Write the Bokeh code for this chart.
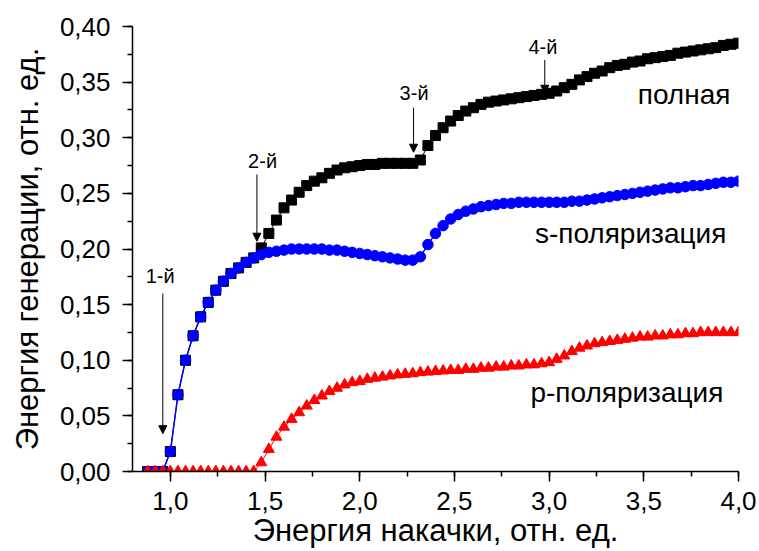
from bokeh.plotting import figure
from bokeh.models import (Range1d, SingleIntervalTicker, CustomJSTickFormatter,
                          Arrow, NormalHead, Label)
from bokeh.embed import file_html
from bokeh.resources import INLINE

# Pump energy (rel. units)
pump = [0.88, 0.92, 0.96, 1.00, 1.04, 1.08, 1.12, 1.16, 1.20, 1.24,
        1.28, 1.32, 1.36, 1.40, 1.44, 1.48, 1.52, 1.56, 1.60, 1.64,
        1.68, 1.72, 1.76, 1.80, 1.84, 1.88, 1.92, 1.96, 2.00, 2.04,
        2.08, 2.12, 2.16, 2.20, 2.24, 2.28, 2.32, 2.36, 2.40, 2.44,
        2.48, 2.52, 2.56, 2.60, 2.64, 2.68, 2.72, 2.76, 2.80, 2.84,
        2.88, 2.92, 2.96, 3.00, 3.04, 3.08, 3.12, 3.16, 3.20, 3.24,
        3.28, 3.32, 3.36, 3.40, 3.44, 3.48, 3.52, 3.56, 3.60, 3.64,
        3.68, 3.72, 3.76, 3.80, 3.84, 3.88, 3.92, 3.96, 4.00]

# Total output energy
total = [0.000, 0.000, 0.000, 0.018, 0.069, 0.100, 0.122, 0.139, 0.152, 0.163,
         0.171, 0.178, 0.183, 0.188, 0.192, 0.201, 0.214, 0.226, 0.237, 0.244,
         0.251, 0.257, 0.261, 0.264, 0.268, 0.271, 0.273, 0.274, 0.275, 0.276,
         0.276, 0.277, 0.277, 0.277, 0.277, 0.277, 0.280, 0.293, 0.302, 0.309,
         0.315, 0.320, 0.324, 0.327, 0.330, 0.332, 0.333, 0.334, 0.335, 0.336,
         0.337, 0.338, 0.339, 0.340, 0.342, 0.345, 0.348, 0.352, 0.355, 0.358,
         0.360, 0.363, 0.365, 0.366, 0.368, 0.369, 0.371, 0.372, 0.373, 0.374,
         0.376, 0.377, 0.378, 0.379, 0.380, 0.381, 0.383, 0.384, 0.385]

# s-polarized component
s_pol = [0.000, 0.000, 0.000, 0.018, 0.069, 0.100, 0.122, 0.139, 0.152, 0.163,
         0.171, 0.178, 0.183, 0.188, 0.192, 0.195, 0.197, 0.198, 0.199, 0.200,
         0.200, 0.200, 0.200, 0.200, 0.199, 0.199, 0.198, 0.197, 0.196, 0.195,
         0.194, 0.193, 0.192, 0.191, 0.190, 0.190, 0.193, 0.204, 0.214, 0.221,
         0.227, 0.231, 0.234, 0.236, 0.238, 0.239, 0.240, 0.241, 0.241, 0.242,
         0.242, 0.242, 0.242, 0.242, 0.242, 0.242, 0.243, 0.243, 0.244, 0.245,
         0.246, 0.247, 0.248, 0.249, 0.250, 0.251, 0.252, 0.253, 0.254, 0.255,
         0.255, 0.256, 0.257, 0.257, 0.258, 0.259, 0.260, 0.260, 0.261]

# p-polarized component
p_pol = [0.000, 0.000, 0.000, 0.000, 0.000, 0.000, 0.000, 0.000, 0.000, 0.000,
         0.000, 0.000, 0.000, 0.000, 0.000, 0.008, 0.020, 0.031, 0.040, 0.047,
         0.053, 0.059, 0.064, 0.068, 0.072, 0.075, 0.078, 0.080, 0.081, 0.083,
         0.084, 0.085, 0.086, 0.087, 0.0875, 0.088, 0.089, 0.0895, 0.090, 0.0905,
         0.091, 0.091, 0.092, 0.092, 0.093, 0.093, 0.094, 0.094, 0.095, 0.095,
         0.096, 0.096, 0.097, 0.098, 0.101, 0.104, 0.108, 0.111, 0.113, 0.115,
         0.116, 0.117, 0.118, 0.119, 0.120, 0.121, 0.121, 0.122, 0.122, 0.123,
         0.123, 0.124, 0.124, 0.125, 0.125, 0.125, 0.125, 0.125, 0.125]

# Threshold markers: label, arrow x, arrow start y, arrow tip y, label x, label y
mark_labels = ["1-й", "2-й", "3-й", "4-й"]
mark_x = [0.960, 1.457, 2.284, 2.977]
mark_y0 = [0.160, 0.267, 0.327, 0.370]
mark_y1 = [0.034, 0.207, 0.287, 0.340]
mark_lx = [0.946, 1.487, 2.287, 2.967]
mark_ly = [0.176, 0.279, 0.340, 0.382]

# Curve captions: text, x (left), y (baseline)
cap_text = ["полная", "s-поляризация", "p-поляризация"]
cap_x = [3.468, 2.925, 2.901]
cap_y = [0.3385, 0.2135, 0.071]

FONT = "Liberation Sans"

p = figure(width=759, height=551, output_backend="svg", toolbar_location=None,
           x_range=Range1d(0.80, 4.0), y_range=Range1d(0.0, 0.40),
           min_border_left=132, min_border_right=21, min_border_top=26,
           min_border_bottom=80)
p.outline_line_color = None
p.xgrid.visible = False
p.ygrid.visible = False
p.background_fill_color = "white"
p.border_fill_color = "white"

# Axes
p.xaxis.ticker = SingleIntervalTicker(interval=0.5, num_minor_ticks=2)
p.yaxis.ticker = SingleIntervalTicker(interval=0.05, num_minor_ticks=2)
p.xaxis.formatter = CustomJSTickFormatter(code="return tick.toFixed(1).replace('.', ',');")
p.yaxis.formatter = CustomJSTickFormatter(code="return tick.toFixed(2).replace('.', ',');")
p.xaxis.axis_label = "Энергия накачки, отн. ед."
p.yaxis.axis_label = "Энергия генерации, отн. ед."
for ax in (p.xaxis, p.yaxis):
    ax.axis_line_width = 1.5
    ax.axis_line_color = "black"
    ax.major_tick_line_width = 1.5
    ax.minor_tick_line_width = 1.5
    ax.major_tick_line_color = "black"
    ax.minor_tick_line_color = "black"
    ax.major_tick_in = 0
    ax.major_tick_out = 10
    ax.minor_tick_in = 0
    ax.minor_tick_out = 5
    ax.major_label_text_font = FONT
    ax.major_label_text_font_size = "26px"
    ax.major_label_text_color = "black"
    ax.axis_label_text_font = FONT
    ax.axis_label_text_font_size = "31px"
    ax.axis_label_text_font_style = "normal"
    ax.axis_label_text_color = "black"
p.xaxis.major_label_standoff = 10
p.yaxis.major_label_standoff = 12
p.xaxis.axis_label_standoff = 0
p.yaxis.axis_label_standoff = 12

# Total: black squares
p.line(pump, total, line_color="black", line_width=1)
p.scatter(pump, total, marker="square", size=10, fill_color="black", line_color="black")

# s-polarization: blue circles
p.line(pump, s_pol, line_color="#0000ff", line_width=1.5)
p.scatter(pump, s_pol, marker="circle", size=10.5, fill_color="#0000ff", line_color="#0000ff")

# p-polarization: red triangles
p.line(pump, p_pol, line_color="#ff0000", line_width=1)
p.scatter(pump, p_pol, marker="triangle", size=11, fill_color="#ff0000", line_color="#ff0000")

# Threshold arrows and labels
for lab, x, y0, y1, lx, ly in zip(mark_labels, mark_x, mark_y0, mark_y1, mark_lx, mark_ly):
    p.add_layout(Arrow(end=NormalHead(size=8, fill_color="black", line_color="black", line_width=1),
                       x_start=x, y_start=y0, x_end=x, y_end=y1,
                       line_color="black", line_width=1))
    p.add_layout(Label(x=lx, y=ly, text=lab, text_font=FONT, text_font_size="20px",
                       text_align="center", text_baseline="middle", text_color="black"))

# Curve captions
for t, x, y in zip(cap_text, cap_x, cap_y):
    p.add_layout(Label(x=x, y=y, text=t, text_font=FONT, text_font_size="28px",
                       text_align="left", text_baseline="alphabetic", text_color="black"))

open("out.html", "w").write(file_html(p, INLINE))
